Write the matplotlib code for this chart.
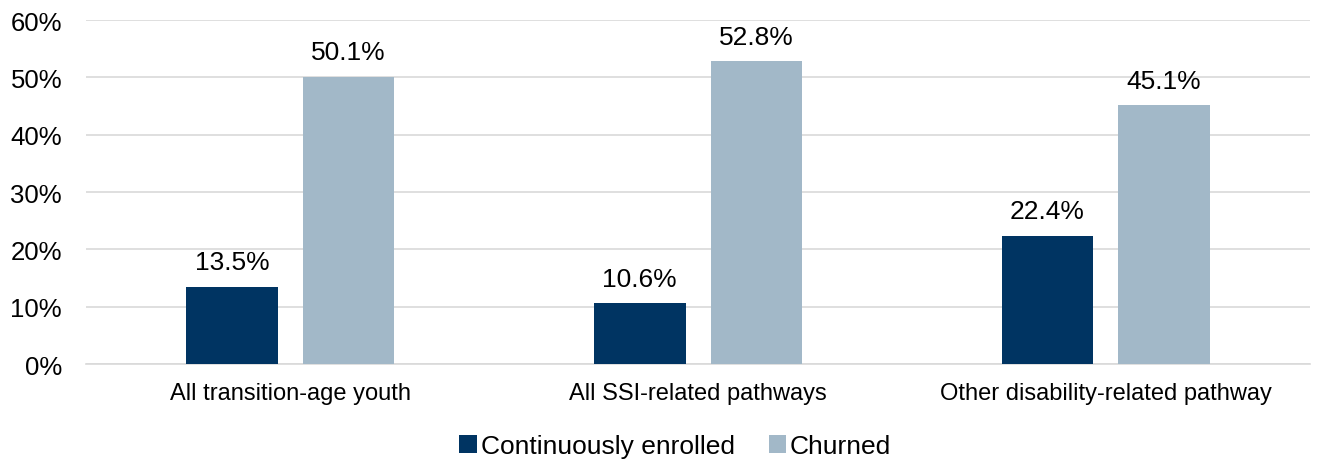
import matplotlib.pyplot as plt
import numpy as np

plt.rcParams['font.family'] = ['Liberation Sans', 'DejaVu Sans']

categories = ["All transition-age youth", "All SSI-related pathways", "Other disability-related pathway"]
continuously_enrolled = [13.5, 10.6, 22.4]
churned = [50.1, 52.8, 45.1]

dark = "#003462"
light = "#a2b8c8"

fig = plt.figure(figsize=(13.19, 4.60), dpi=100)
ax = fig.add_axes([0.0655, 0.2065, 0.9275, 0.7478])

x = np.arange(len(categories))
w = 0.225
off = 0.143
b1 = ax.bar(x - off, continuously_enrolled, w, color=dark, label="Continuously enrolled", zorder=3)
b2 = ax.bar(x + off, churned, w, color=light, label="Churned", zorder=3)

for bars, vals in [(b1, continuously_enrolled), (b2, churned)]:
    for rect, v in zip(bars, vals):
        ax.text(rect.get_x() + rect.get_width() / 2, v + 2.2, f"{v:.1f}%",
                ha="center", va="bottom", fontsize=19, color="#000000")

ax.set_xlim(-0.5, 2.5)
ax.set_ylim(0, 60)
ax.set_yticks(range(0, 61, 10))
ax.set_yticklabels([f"{t}%" for t in range(0, 61, 10)], fontsize=18.5)
ax.set_xticks(x)
ax.set_xticklabels(categories, fontsize=17)
ax.tick_params(axis="both", length=0)
ax.tick_params(axis="y", pad=17.5)
ax.tick_params(axis="x", pad=13)
ax.grid(axis="y", color="#d9d9d9", linewidth=1.2, zorder=0)
for s in ["top", "right", "left"]:
    ax.spines[s].set_visible(False)
ax.spines["bottom"].set_color("#d9d9d9")
ax.spines["bottom"].set_linewidth(1.2)

fig.legend(loc="lower center", bbox_to_anchor=(0.512, -0.05), ncol=2, frameon=False,
           fontsize=19, handlelength=0.65, handleheight=0.65, handletextpad=0.15, columnspacing=1.3)

fig.savefig("out.png", dpi=100)
